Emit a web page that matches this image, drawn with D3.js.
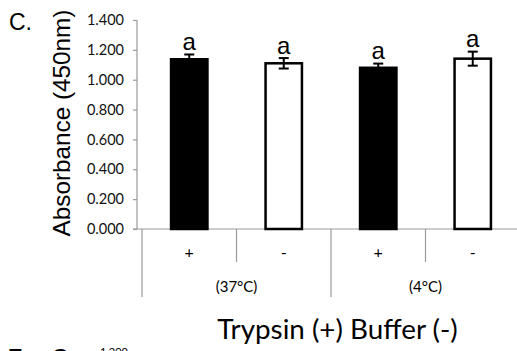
<!DOCTYPE html>
<html>
<head>
<meta charset="utf-8">
<script src="https://cdn.jsdelivr.net/npm/d3@7"></script>
<style>
  html, body { margin: 0; padding: 0; background: #fff; }
  svg { display: block; }
</style>
</head>
<body>
<svg id="chart" width="517" height="351"></svg>
<script>
// ---- data ----
const categories = ["c1", "c2", "c3", "c4"];
const treatmentLabels = ["+", "-", "+", "-"];
const groupLabels = ["(37°C)", "(4°C)"];
const values = [1.137, 1.110, 1.080, 1.141];
const errors = [0.032, 0.035, 0.028, 0.047];
const letters = ["a", "a", "a", "a"];
const yTicks = [0, 0.2, 0.4, 0.6, 0.8, 1.0, 1.2, 1.4];

const svg = d3.select("#chart");
const axisColor = "#9a9a9a";

const y = d3.scaleLinear().domain([0, 1.4]).range([229, 20]);
const x = d3.scaleBand().domain(categories).range([142, 520]).padding(0);
const barW = x.bandwidth() * 0.385;

// panel label
svg.append("text").attr("x", 9).attr("y", 30)
  .attr("font-family", "Liberation Sans, Arial, sans-serif").attr("font-size", 23)
  .text("C.");

// y axis title
svg.append("text")
  .attr("transform", "translate(69.5,123) rotate(-90)")
  .attr("text-anchor", "middle")
  .attr("font-family", "Liberation Sans, Arial, sans-serif").attr("font-size", 24.3)
  .text("Absorbance (450nm)");

// y axis
const yAxis = d3.axisLeft(y).tickValues(yTicks).tickFormat(d3.format(".3f")).tickSize(4).tickPadding(9);
const gy = svg.append("g").attr("transform", "translate(137,0)").call(yAxis);
gy.select(".domain").attr("stroke", axisColor).attr("stroke-width", 1.2).attr("d", `M0,${y(1.4)}V${y(0)}`);
gy.selectAll(".tick line").attr("stroke", axisColor).attr("stroke-width", 1.2);
gy.selectAll(".tick text").attr("font-family", "Lato, sans-serif").attr("font-size", 14.5).attr("fill", "#111");

// x axis baseline
svg.append("line").attr("x1", 133).attr("x2", 517).attr("y1", y(0)).attr("y2", y(0))
  .attr("stroke", axisColor).attr("stroke-width", 1.2);

// category separators
const boundaries = categories.map(c => x(c));
boundaries.forEach((bx, i) => {
  const long = i % 2 === 0;
  svg.append("line").attr("x1", bx).attr("x2", bx)
    .attr("y1", y(0)).attr("y2", long ? 297 : 262)
    .attr("stroke", axisColor).attr("stroke-width", 1.2);
});

// treatment labels
svg.selectAll(".tl").data(categories).enter().append("text")
  .attr("x", d => x(d) + x.bandwidth() / 2)
  .attr("y", 258)
  .attr("text-anchor", "middle")
  .attr("font-family", "Lato, sans-serif").attr("font-size", 16)
  .text((d, i) => treatmentLabels[i]);

// group labels
groupLabels.forEach((g, i) => {
  const cx = x(categories[i * 2]) + x.bandwidth();
  svg.append("text").attr("x", cx).attr("y", 292)
    .attr("text-anchor", "middle")
    .attr("font-family", "Lato, sans-serif").attr("font-size", 15)
    .text(g);
});

// bars
svg.selectAll(".bar").data(categories).enter().append("rect")
  .attr("x", d => x(d) + x.bandwidth() / 2 - barW / 2)
  .attr("width", barW)
  .attr("y", (d, i) => y(values[i]))
  .attr("height", (d, i) => y(0) - y(values[i]))
  .attr("fill", (d, i) => treatmentLabels[i] === "+" ? "#000" : "#fff")
  .attr("stroke", "#000").attr("stroke-width", 2.5);

// error bars
categories.forEach((c, i) => {
  const cx = x(c) + x.bandwidth() / 2;
  const top = y(values[i] + errors[i]);
  const bot = y(values[i] - errors[i]);
  const g = svg.append("g").attr("stroke", "#000").attr("stroke-width", 2);
  g.append("line").attr("x1", cx).attr("x2", cx).attr("y1", top).attr("y2", bot);
  g.append("line").attr("x1", cx - 5).attr("x2", cx + 5).attr("y1", top).attr("y2", top);
  g.append("line").attr("x1", cx - 5).attr("x2", cx + 5).attr("y1", bot).attr("y2", bot);
  svg.append("text").attr("x", cx).attr("y", top - 4.5)
    .attr("text-anchor", "middle")
    .attr("font-family", "Liberation Sans, Arial, sans-serif").attr("font-size", 24)
    .text(letters[i]);
});

// x axis title
svg.append("text").attr("x", 337.5).attr("y", 339)
  .attr("text-anchor", "middle")
  .attr("font-family", "Lato, sans-serif").attr("font-size", 27.8)
  .text("Trypsin (+) Buffer (-)");

// cut-off top of next panel
svg.append("text").attr("x", 8).attr("y", 364)
  .attr("font-family", "Liberation Sans, Arial, sans-serif").attr("font-size", 22).attr("font-weight", "bold")
  .text("E.");
svg.append("text").attr("x", 52).attr("y", 364)
  .attr("font-family", "Liberation Sans, Arial, sans-serif").attr("font-size", 22).attr("font-weight", "bold")
  .text("C");
svg.append("text").attr("x", 128).attr("y", 356)
  .attr("text-anchor", "end")
  .attr("font-family", "Lato, sans-serif").attr("font-size", 11)
  .text("1.200");
</script>
</body>
</html>
